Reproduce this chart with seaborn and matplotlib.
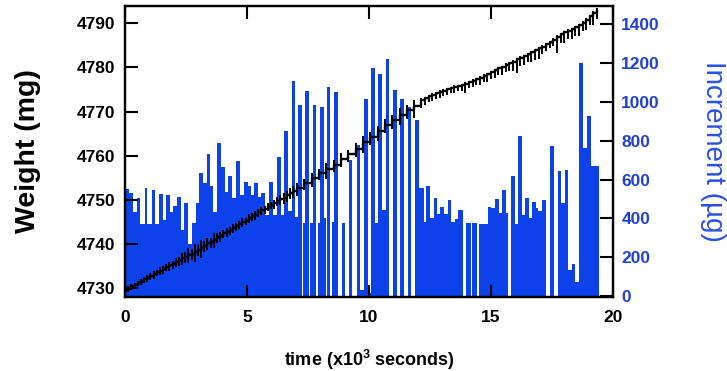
import matplotlib
matplotlib.use("Agg")
import matplotlib.pyplot as plt
import seaborn as sns
import numpy as np

# ---------------- data ----------------
# increment bars: segment edges (x10^3 s) and increment heights (ug)
seg_edges = [0.00, 0.16, 0.31, 0.48, 0.61, 0.81, 0.92, 1.09, 1.22, 1.40,
             1.54, 1.66, 1.83, 1.97, 2.13, 2.30, 2.43, 2.60, 2.75, 2.92,
             3.05, 3.20, 3.38, 3.49, 3.61, 3.76, 3.93, 4.10, 4.23, 4.40,
             4.55, 4.71, 4.89, 5.03, 5.16, 5.30, 5.46, 5.57, 5.74, 5.91,
             6.08, 6.23, 6.39, 6.53, 6.66, 6.83, 6.96, 7.08, 7.25, 7.30,
             7.39, 7.53, 7.60, 7.69, 7.83, 7.90, 8.01, 8.14, 8.22, 8.28,
             8.41, 8.48, 8.58, 8.73, 8.88, 9.03, 9.18, 9.32, 9.50, 9.64,
             9.80, 9.94, 10.07, 10.23, 10.38, 10.52, 10.68, 10.83, 10.98, 11.14,
             11.28, 11.43, 11.58, 11.74, 11.89, 12.04, 12.24, 12.35, 12.49, 12.65,
             12.77, 12.91, 13.07, 13.24, 13.38, 13.53, 13.66, 13.84, 13.98, 14.16,
             14.22, 14.44, 14.51, 14.89, 15.02, 15.17, 15.31, 15.46, 15.60, 15.70,
             15.81, 15.97, 16.12, 16.26, 16.40, 16.55, 16.69, 16.83, 16.94, 17.09,
             17.25, 17.43, 17.60, 17.73, 17.88, 18.02, 18.16, 18.32, 18.46, 18.61,
             18.78, 18.93, 19.10, 19.42]
increment_ug = [551, 532, 431, 507, 369, 558, 369, 546, 369, 524,
                391, 520, 432, 463, 508, 340, 480, 268, 378, 477,
                632, 584, 731, 567, 431, 786, 666, 534, 618, 503,
                693, 520, 589, 569, 520, 580, 512, 532, 417, 589,
                417, 718, 417, 851, 440, 1109, 408, 984, 0, 376,
                1057, 0, 375, 984, 0, 376, 975, 400, 0, 1078,
                0, 380, 1052, 0, 376, 0, 700, 0, 780, 30,
                1015, 15, 1173, 374, 1144, 443, 1220, 0, 1061, 0,
                1015, 0, 975, 0, 905, 555, 383, 568, 400, 503,
                425, 460, 421, 497, 381, 395, 442, 0, 376, 0,
                376, 0, 372, 460, 452, 500, 426, 546, 426, 0,
                620, 370, 824, 417, 503, 400, 486, 452, 440, 494,
                0, 774, 0, 646, 477, 650, 134, 163, 74, 1198,
                764, 927, 670]

# weight trace (x10^3 s, mg) with lower / upper error bars (mg)
weight_time = [0.00, 0.13, 0.26, 0.39, 0.52, 0.65, 0.78, 0.91, 1.04, 1.17,
               1.30, 1.43, 1.56, 1.69, 1.82, 1.95, 2.08, 2.21, 2.34, 2.47,
               2.60, 2.73, 2.86, 2.99, 3.12, 3.25, 3.38, 3.51, 3.64, 3.77,
               3.90, 4.03, 4.16, 4.29, 4.42, 4.55, 4.68, 4.81, 4.94, 5.07,
               5.20, 5.33, 5.46, 5.59, 5.72, 5.85, 5.98, 6.11, 6.24, 6.37,
               6.50, 6.63, 6.76, 6.89,
               7.05, 7.35, 7.65, 7.95, 8.25, 8.55, 8.85, 9.15, 9.45, 9.75,
               10.05, 10.35, 10.65, 10.95, 11.25, 11.55, 11.85,
               12.15, 12.30, 12.45, 12.60, 12.75, 12.90, 13.05, 13.20, 13.35, 13.50,
               13.65, 13.80, 13.95, 14.10, 14.25, 14.40, 14.55, 14.70, 14.85, 15.00,
               15.15, 15.30, 15.45, 15.60, 15.75, 15.90, 16.05, 16.20, 16.35, 16.50,
               16.65, 16.80, 16.95, 17.10, 17.25, 17.40, 17.55, 17.70, 17.85, 18.00,
               18.15, 18.30, 18.45, 18.60, 18.75, 18.90, 19.05, 19.20, 19.35]
weight_mg = [4729.6, 4729.9, 4730.4, 4730.7, 4731.2, 4731.5, 4732.0, 4732.3, 4732.8, 4733.1,
             4733.6, 4734.0, 4734.3, 4734.8, 4735.2, 4735.5, 4736.0, 4736.3, 4736.8, 4737.1,
             4737.6, 4737.8, 4738.3, 4738.7, 4739.2, 4739.6, 4740.2, 4740.5, 4741.0, 4741.5,
             4741.8, 4742.4, 4742.8, 4743.1, 4743.7, 4744.0, 4744.5, 4745.0, 4745.3, 4745.9,
             4746.3, 4746.6, 4747.2, 4747.6, 4747.9, 4748.5, 4748.9, 4749.2, 4749.8, 4750.2,
             4750.5, 4751.1, 4751.6, 4752.0,
             4752.7, 4753.8, 4754.9, 4756.0, 4757.0, 4758.0, 4759.3, 4760.3, 4761.6, 4763.0,
             4764.2, 4765.5, 4767.0, 4768.0, 4769.3, 4770.3, 4771.3,
             4772.7, 4773.0, 4773.5, 4773.8, 4774.2, 4774.5, 4774.7, 4775.1, 4775.3, 4775.6,
             4775.8, 4776.0, 4776.3, 4776.6, 4777.0, 4777.3, 4777.7, 4778.1, 4778.4, 4778.9,
             4779.4, 4779.8, 4780.1, 4780.6, 4781.0, 4781.3, 4781.8, 4782.2, 4782.5, 4783.0,
             4783.4, 4783.9, 4784.3, 4784.7, 4785.2, 4785.7, 4786.3, 4786.9, 4787.5, 4787.9,
             4788.3, 4788.6, 4789.1, 4789.6, 4790.1, 4790.8, 4791.6, 4792.3, 4793.1]
weight_err_lo = [0.6, 0.7, 0.6, 0.8, 0.7, 0.8, 0.9, 0.8, 0.9, 1.0,
                 0.9, 1.0, 1.1, 1.0, 1.2, 1.1, 1.3, 1.2, 1.6, 1.3,
                 2.0, 1.5, 2.3, 1.5, 2.4, 1.4, 1.6, 1.3, 2.0, 1.2,
                 1.4, 1.1, 1.3, 1.1, 1.2, 1.0, 1.2, 1.1, 1.0, 1.1,
                 1.0, 1.1, 1.0, 1.1, 1.0, 1.1, 1.0, 1.2, 1.1, 1.3,
                 1.4, 1.5, 1.4, 1.6,
                 1.8, 1.5, 1.9, 1.6, 2.2, 1.6, 1.9, 1.7, 2.0, 2.4,
                 1.8, 2.2, 1.9, 2.0, 2.4, 1.9, 2.8,
                 2.0, 1.6, 1.4, 1.5, 1.3, 1.5, 1.2, 1.4, 1.2, 1.3,
                 1.2, 1.4, 2.2, 1.3, 1.5, 1.4, 1.6, 1.5, 1.7, 1.5,
                 1.8, 1.6, 1.9, 1.7, 1.8, 2.2, 3.0, 1.9, 2.0, 1.8,
                 2.1, 2.3, 2.4, 1.6, 1.4, 1.3, 1.5, 3.6, 2.0, 2.3,
                 1.9, 2.2, 2.0, 2.6, 1.8, 2.4, 2.0, 2.6, 2.2]
weight_err_hi = [0.5, 0.5, 0.5, 0.5, 0.5, 0.6, 0.6, 0.6, 0.6, 0.7,
                 0.6, 0.7, 0.7, 0.7, 0.8, 0.7, 0.9, 0.8, 1.2, 1.0,
                 1.5, 1.1, 1.6, 1.0, 1.8, 1.0, 1.2, 0.9, 1.4, 0.9,
                 1.0, 0.8, 0.9, 0.8, 0.9, 0.8, 0.8, 0.8, 0.7, 0.8,
                 0.7, 0.8, 0.7, 0.8, 0.7, 0.8, 0.7, 0.8, 0.8, 0.9,
                 1.0, 1.0, 1.0, 1.1,
                 1.2, 1.0, 1.2, 1.1, 1.3, 1.0, 1.2, 1.1, 1.3, 1.4,
                 1.2, 1.3, 1.2, 1.2, 1.4, 1.2, 1.4,
                 0.4, 0.3, 0.3, 0.3, 0.3, 0.3, 0.3, 0.3, 0.3, 0.3,
                 0.3, 0.3, 0.3, 0.3, 0.3, 0.3, 0.3, 0.3, 0.3, 0.3,
                 0.3, 0.3, 0.3, 0.3, 0.3, 0.3, 0.4, 0.3, 0.3, 0.3,
                 0.3, 0.3, 0.3, 0.3, 0.3, 0.3, 0.3, 0.4, 0.3, 0.3,
                 0.3, 0.3, 0.3, 0.3, 0.3, 0.3, 0.3, 0.4, 0.4]

x_ticks = [0, 5, 10, 15, 20]
weight_ticks = [4730, 4740, 4750, 4760, 4770, 4780, 4790]
incr_ticks = [0, 200, 400, 600, 800, 1000, 1200, 1400]

# ---------------- style ----------------
sns.set_style("ticks")
plt.rcParams["font.family"] = ["Liberation Sans", "DejaVu Sans"]
plt.rcParams["mathtext.fontset"] = "custom"
plt.rcParams["mathtext.rm"] = "Liberation Sans"
plt.rcParams["mathtext.bf"] = "Liberation Sans:bold"
plt.rcParams["text.color"] = "black"
plt.rcParams["axes.labelcolor"] = "black"
BAR_BLUE = "#0d42ea"
TICK_BLUE = "#1e40d4"
LABEL_BLUE = "#2a50e0"

fig = plt.figure(figsize=(7.27, 3.71), dpi=100)
ax = fig.add_axes([125 / 727, 1 - 297 / 371, 488 / 727, 291 / 371])
ax2 = ax.twinx()

# increment bars (right axis)
seg_mid = [(a + b) / 2 for a, b in zip(seg_edges[:-1], seg_edges[1:])]
sns.histplot(x=seg_mid, weights=increment_ug, bins=seg_edges, element="step",
             fill=True, color=BAR_BLUE, alpha=1, linewidth=0, ax=ax2)

# weight trace (left axis)
sns.lineplot(x=weight_time, y=weight_mg, ax=ax, color="black", linewidth=1.7,
             drawstyle="steps-post", sort=False)
ax.errorbar(weight_time, weight_mg, yerr=[weight_err_lo, weight_err_hi], fmt="none",
            ecolor="black", elinewidth=1.4, capsize=0)

ax.set_zorder(ax2.get_zorder() + 1)
ax.patch.set_visible(False)

# limits & ticks
ax.set_xlim(0, 20)
ax.set_ylim(4728.0, 4793.9)
ax2.set_ylim(-5, 1494)
ax.set_xticks(x_ticks)
ax.set_yticks(weight_ticks)
ax2.set_yticks(incr_ticks)

ax.tick_params(axis="both", direction="in", length=9, width=1.5, labelsize=12.5,
               pad=7, colors="black")
ax.tick_params(axis="x", top=True, pad=9)
ax2.tick_params(axis="y", direction="in", length=9.5, width=1.5, labelsize=12.5,
                pad=6, colors="black", labelcolor=TICK_BLUE)
for lab in ax.get_xticklabels() + ax.get_yticklabels() + ax2.get_yticklabels():
    lab.set_fontweight("bold")
for lab in ax2.get_yticklabels():
    lab.set_color(TICK_BLUE)

for a in (ax, ax2):
    for s in a.spines.values():
        s.set_linewidth(1.6)
        s.set_color("black")
        s.set_visible(True)

ax.set_xlabel(r"time (x10$^{\mathbf{3}}$ seconds)", fontsize=13, fontweight="bold",
              labelpad=17, color="black")
ax.set_ylabel("Weight (mg)", fontsize=20.5, fontweight="bold", va="center", color="black")
ax.yaxis.set_label_coords(-0.199, 0.5)
ax2.set_ylabel("Increment (µg)", fontsize=20, color=LABEL_BLUE, rotation=-90,
               va="center", ha="center")
ax2.yaxis.set_label_coords(1.205, 0.5)

fig.savefig("out.png", dpi=100, facecolor="white")
